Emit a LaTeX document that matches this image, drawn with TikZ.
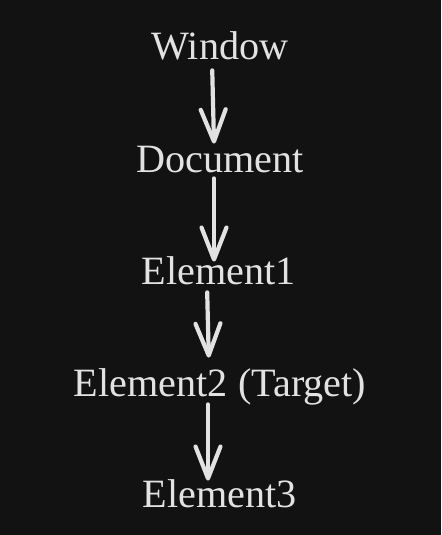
\documentclass[tikz,border=0pt]{standalone}
\usepackage{fontspec}
\setmainfont{Liberation Serif}
\usepackage{xcolor}
\definecolor{bgdark}{RGB}{18,18,18}
\definecolor{txtlight}{RGB}{226,226,226}
\usetikzlibrary{arrows.meta,positioning}
\tikzset{
  lvl/.style={text=txtlight, font=\fontsize{20.1}{24}\selectfont, inner sep=0pt,
              anchor=base, text height=14pt, text depth=0pt},
  flow/.style={draw=txtlight, line width=2.1pt, line cap=round,
               -{Straight Barb[length=16pt,width=12.5pt,round]}},
}
\begin{document}
\begin{tikzpicture}[x=0.5pt, y=-0.5pt]

% background
\fill[bgdark] (0,0) rectangle (441,535);
\useasboundingbox (0,0) rectangle (441,535);

% levels
\node[lvl] (window) at (220,60) {Window};
\node[lvl] (document) at (220,172) {Document};
\node[lvl] (el1) at (219,284) {Element1};
\node[lvl] (el2) at (220,396) {Element2 (Target)};
\node[lvl] (el3) at (220,507) {Element3};

% arrows
\draw[flow, shorten <=5pt] ([xshift=-4pt]window.south) -- ([xshift=-3pt]document.north);
\draw[flow, shorten <=3pt, shorten >=-3pt] ([xshift=-3pt]document.south) -- ([xshift=-2.5pt]el1.north);
\draw[flow, shorten <=4pt, shorten >=5pt] ([xshift=-6pt]el1.south) -- ([xshift=-5.5pt]el2.north);
\draw[flow, shorten <=4pt, shorten >=-1pt] ([xshift=-6pt]el2.south) -- ([xshift=-6pt]el3.north);

\end{tikzpicture}
\end{document}
